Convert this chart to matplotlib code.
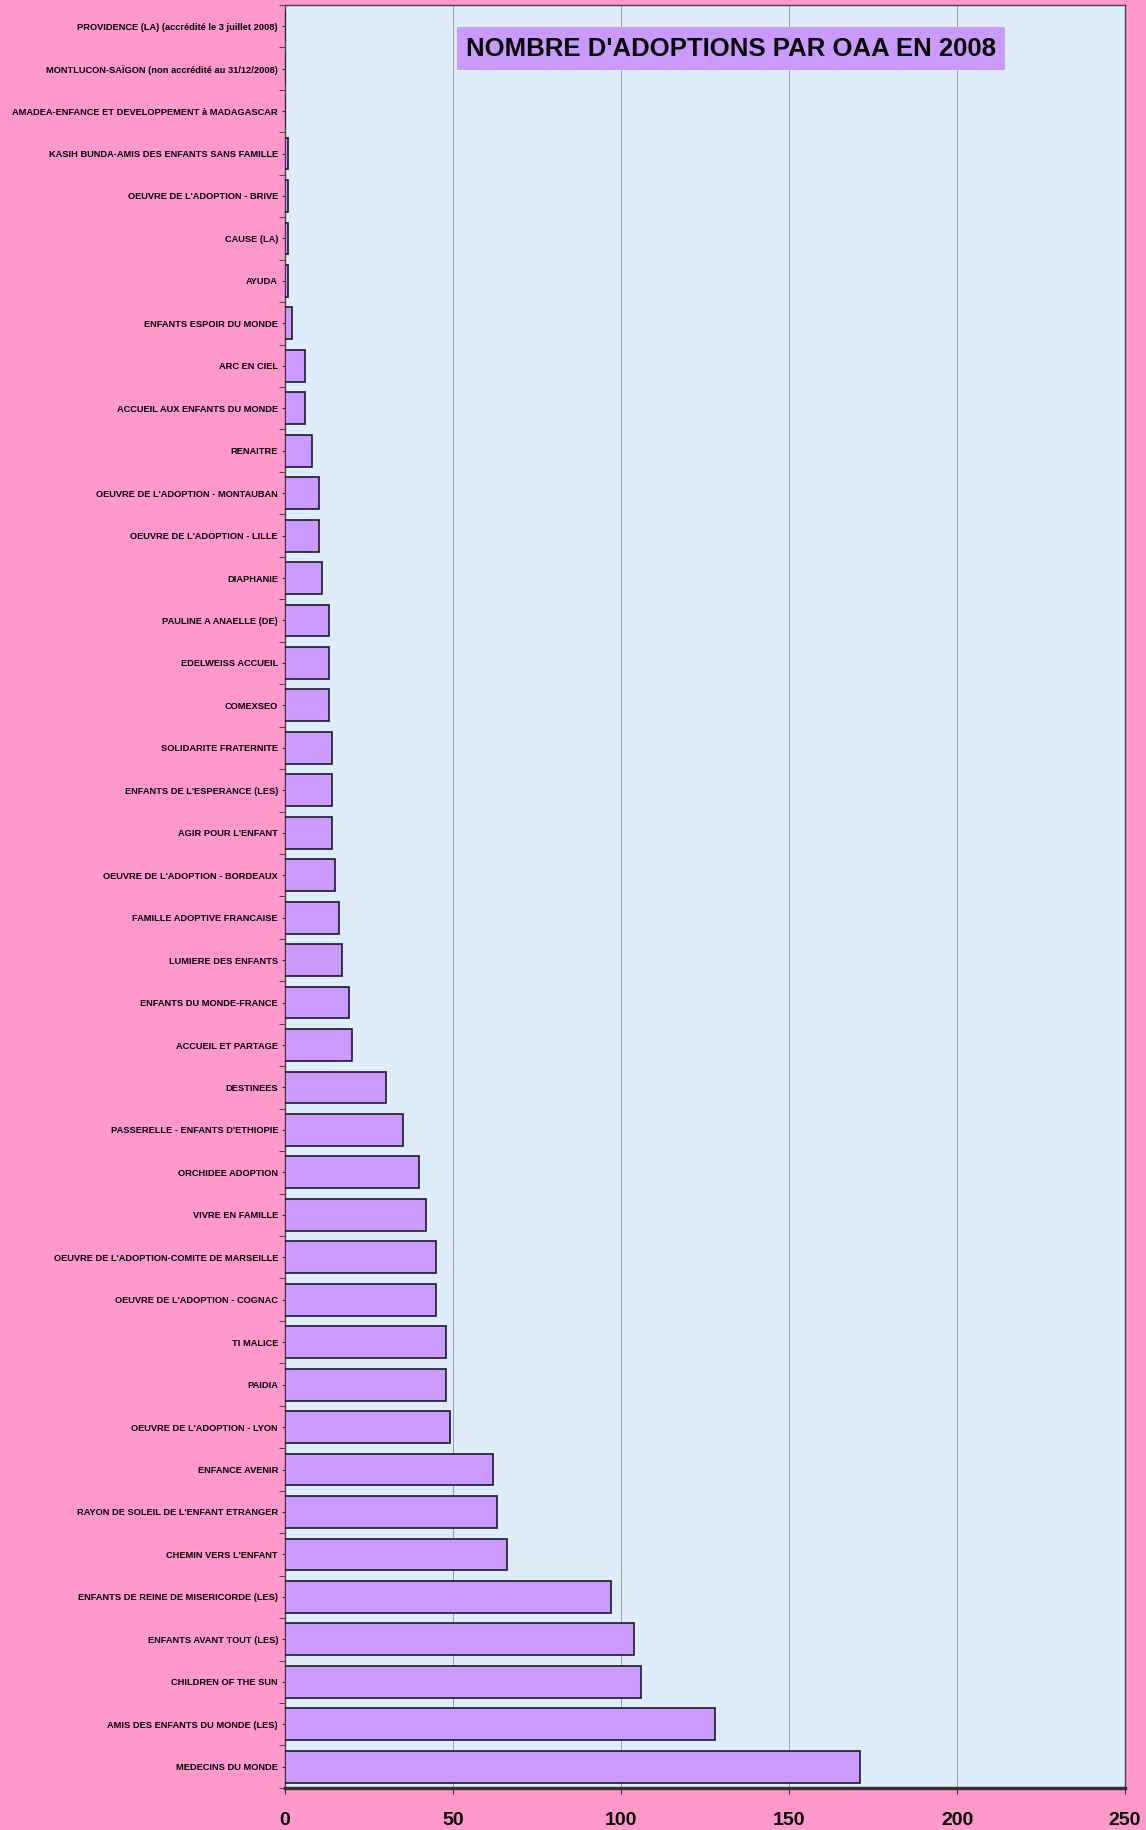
import numpy as np
import matplotlib
matplotlib.use("Agg")
import matplotlib.pyplot as plt

# categories from top to bottom, as in the reference
organismes = [
    "PROVIDENCE (LA) (accrédité le 3 juillet 2008)",
    "MONTLUCON-SAÏGON (non accrédité au 31/12/2008)",
    "AMADEA-ENFANCE ET DEVELOPPEMENT à MADAGASCAR",
    "KASIH BUNDA-AMIS DES ENFANTS SANS FAMILLE",
    "OEUVRE DE L'ADOPTION - BRIVE",
    "CAUSE (LA)",
    "AYUDA",
    "ENFANTS ESPOIR DU MONDE",
    "ARC EN CIEL",
    "ACCUEIL AUX ENFANTS DU MONDE",
    "RENAITRE",
    "OEUVRE DE L'ADOPTION - MONTAUBAN",
    "OEUVRE DE L'ADOPTION - LILLE",
    "DIAPHANIE",
    "PAULINE A ANAELLE (DE)",
    "EDELWEISS ACCUEIL",
    "COMEXSEO",
    "SOLIDARITE FRATERNITE",
    "ENFANTS DE L'ESPERANCE (LES)",
    "AGIR POUR L'ENFANT",
    "OEUVRE DE L'ADOPTION - BORDEAUX",
    "FAMILLE ADOPTIVE FRANCAISE",
    "LUMIERE DES ENFANTS",
    "ENFANTS DU MONDE-FRANCE",
    "ACCUEIL ET PARTAGE",
    "DESTINEES",
    "PASSERELLE - ENFANTS D'ETHIOPIE",
    "ORCHIDEE ADOPTION",
    "VIVRE EN FAMILLE",
    "OEUVRE DE L'ADOPTION-COMITE DE MARSEILLE",
    "OEUVRE DE L'ADOPTION - COGNAC",
    "TI MALICE",
    "PAIDIA",
    "OEUVRE DE L'ADOPTION - LYON",
    "ENFANCE AVENIR",
    "RAYON DE SOLEIL DE L'ENFANT ETRANGER",
    "CHEMIN VERS L'ENFANT",
    "ENFANTS DE REINE DE MISERICORDE (LES)",
    "ENFANTS AVANT TOUT (LES)",
    "CHILDREN OF THE SUN",
    "AMIS DES ENFANTS DU MONDE (LES)",
    "MEDECINS DU MONDE",
]
adoptions = [0, 0, 0, 1, 1, 1, 1, 2, 6, 6, 8, 10, 10, 11, 13, 13, 13, 14, 14, 14,
             15, 16, 17, 19, 20, 30, 35, 40, 42, 45, 45, 48, 48, 49, 62, 63, 66,
             97, 104, 106, 128, 171]
x_ticks = [0, 50, 100, 150, 200, 250]
titre = "NOMBRE D'ADOPTIONS PAR OAA EN 2008"

plt.rcParams["font.family"] = ["Liberation Sans", "DejaVu Sans"]

fig = plt.figure(figsize=(11.46, 18.30), dpi=100, facecolor="#FF99CC")
ax = fig.add_axes([0.2487, 0.023, 0.733, 0.9743])
ax.set_facecolor("#DDEDF9")

n = len(organismes)
# premier organisme en haut
pos = np.arange(n)[::-1]
ax.barh(pos, adoptions, height=0.75, color="#CC99FF", edgecolor="#1a1a2a",
        linewidth=1.2, zorder=3)

ax.set_ylim(-0.5, n - 0.5)
ax.set_xlim(0, 250)
ax.set_xticks(x_ticks)
ax.set_xticklabels([str(t) for t in x_ticks], fontsize=14, fontweight="bold")
ax.set_yticks(pos)
ax.set_yticklabels(organismes, fontsize=6.7, fontweight="bold")
ax.tick_params(axis="y", length=2, pad=3, color="#333333")
ax.set_yticks(np.arange(-0.5, n, 1.0), minor=True)
ax.tick_params(axis="y", which="minor", length=4, color="#333333")
ax.tick_params(axis="x", length=4, pad=13, color="#333333")

ax.grid(axis="x", color="#999999", linewidth=0.7, zorder=1)
ax.set_axisbelow(True)

for side in ["top", "right", "left"]:
    ax.spines[side].set_color("#444444")
    ax.spines[side].set_linewidth(1.0)
ax.spines["bottom"].set_color("#333333")
ax.spines["bottom"].set_linewidth(2.5)

ax.text(0.531, 0.9755, titre, transform=ax.transAxes, ha="center", va="center",
        fontsize=18.5, fontweight="bold", color="black", zorder=5,
        bbox=dict(boxstyle="square,pad=0.36", facecolor="#CC99FF", edgecolor="none"))

fig.savefig("out.png", dpi=100, facecolor=fig.get_facecolor())
